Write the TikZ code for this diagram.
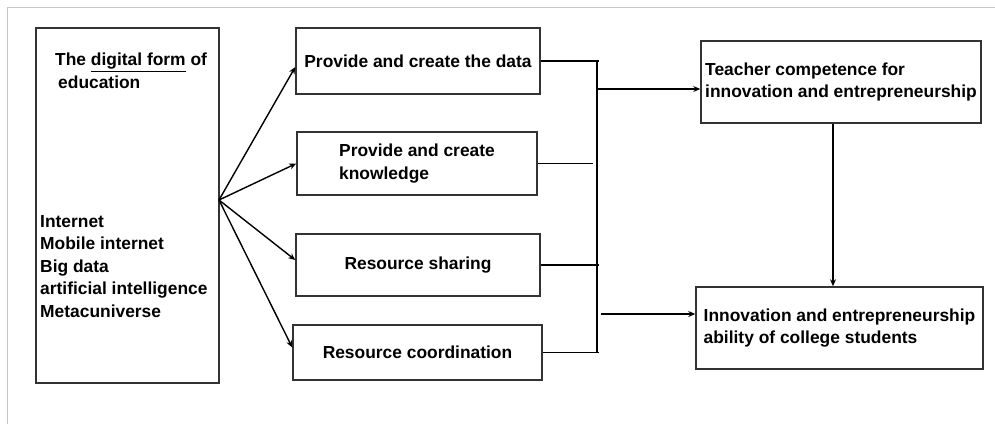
\documentclass[tikz,border=0pt]{standalone}
\usepackage{fontspec}
\setmainfont{Liberation Sans}
\usetikzlibrary{arrows.meta}

\tikzset{
    box/.style={draw=black!80, line width=1.5pt, inner sep=4pt, align=left,
        font=\fontsize{17.4}{22.5}\selectfont\bfseries},
    arr/.style={-{Stealth[length=7pt,width=6pt]}, line width=1.4pt},
    link/.style={line width=1.4pt}
}

\begin{document}
\begin{tikzpicture}[x=1pt, y=-1pt]
    \useasboundingbox (0,0) rectangle (995,424);
    % 外框
    \draw[gray!45, line width=1pt] (7,424) -- (7,7) -- (995,7);

    % 左侧大框
    \node[box, minimum width=183, minimum height=355] (digital) at (127.5,205.5) {};
    \node[anchor=north west, inner sep=0pt, align=left,
          font=\fontsize{17.4}{22.5}\selectfont\bfseries] (title) at (55,53)
        {The \underline{digital form} of\\\hspace{3pt}education};
    \node[anchor=north west, inner sep=0pt, align=left,
          font=\fontsize{17.4}{22.6}\selectfont\bfseries] (techs) at (40,215)
        {Internet\\Mobile internet\\Big data\\artificial intelligence\\Metacuniverse};

    % 中间四个框
    \node[box, minimum width=244, minimum height=66] (data) at (418,61) {Provide and create the data};
    \node[box, minimum width=240, minimum height=63] (knowledge) at (417,163.5) {Provide and create\\knowledge};
    \node[box, minimum width=244, minimum height=62] (sharing) at (418,265) {Resource sharing};
    \node[box, minimum width=249, minimum height=55] (coord) at (417.5,352.5) {Resource coordination};

    % 右侧两个框
    \node[box, minimum width=280, minimum height=82] (teacher) at (841,82) {Teacher competence for\\innovation and entrepreneurship};
    \node[box, minimum width=287, minimum height=82] (ability) at (839.5,328) {Innovation and entrepreneurship\\ability of college students};

    % 扇形箭头
    \coordinate (fan) at (219,200);
    \draw[arr] (fan) -- ([yshift=-6pt]data.west);
    \draw[arr] (fan) -- (knowledge.west);
    \draw[arr] (fan) -- ([yshift=5pt]sharing.west);
    \draw[arr] (fan) -- ([yshift=5pt]coord.west);

    % 汇总竖线
    \def\xbar{597}
    \coordinate (bartop) at (\xbar,61);
    \coordinate (barbot) at (\xbar,352.5);
    \draw[link] (bartop) -- (barbot);
    \draw[link] (data.east) -- ([xshift=2pt]data.east -| bartop);
    \draw[link] (knowledge.east) -- ([xshift=-4pt]knowledge.east -| bartop);
    \draw[link] (sharing.east) -- ([xshift=2pt]sharing.east -| bartop);
    \draw[link] (coord.east) -- ([xshift=2pt]coord.east -| bartop);

    % 指向右侧
    \draw[arr] ([yshift=-7pt]teacher.west -| bartop) -- ([yshift=-7pt]teacher.west);
    \draw[arr] ([yshift=14pt, xshift=4pt]ability.west -| bartop) -- ([yshift=14pt]ability.west);
    \draw[arr] ([xshift=-8pt]teacher.south) -- ([xshift=-8pt]teacher.south |- ability.north);
\end{tikzpicture}
\end{document}
